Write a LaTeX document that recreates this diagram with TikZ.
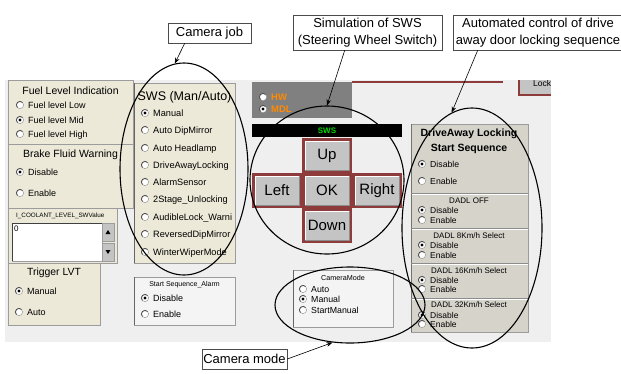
\documentclass[tikz,border=0pt]{standalone}
\usepackage{fontspec}
\setmainfont{Liberation Sans}
\usetikzlibrary{shapes.geometric,arrows.meta}
\definecolor{scrbg}{HTML}{EFEFEF}
\definecolor{panelc}{HTML}{ECE9D8}
\definecolor{dapanel}{HTML}{D6D3CB}
\definecolor{brd}{HTML}{9C9C9C}
\definecolor{maroonc}{HTML}{8E3B3B}
\definecolor{btnc}{HTML}{C4C4C4}
\definecolor{hwc}{HTML}{808080}
\definecolor{orangec}{HTML}{FF8A00}
\definecolor{swsg}{HTML}{00D800}
\definecolor{lightbox}{HTML}{F4F4F4}
% radio button: x, y, checked (1/0)
\newcommand\rbtn[3]{%
  \fill[white] (#1,#2) circle[radius=3.6pt];
  \draw[brd,line width=0.5pt] (#1,#2) circle[radius=3.6pt];
  \draw[black!70,line width=0.8pt] (#1,#2) ++(45:3.6pt) arc[start angle=45,end angle=225,radius=3.6pt];
  \ifnum#3=1 \fill[black] (#1,#2) circle[radius=1.6pt];\fi}
% radio item: name, x, y, checked, size, text
\newcommand\ritem[6]{%
  \rbtn{#2}{#3}{#4}
  \node[inner sep=0pt,anchor=base west,font=\fontsize{#5}{#5}\selectfont] (#1) at (#2+8,#3+0.36*#5) {#6};}
% title node: [opts] name, x, y, size, text
\newcommand\tnode[6][]{%
  \node[inner sep=0pt,anchor=base,font=\fontsize{#5}{#5}\selectfont,#1] (#2) at (#3,#4+0.36*#5) {#6};}
% SWS button: name, x, y, text
\newcommand\swsbtn[4]{%
  \fill[maroonc] (#2,#3) rectangle +(50,35);
  \fill[btnc] (#2+2.5,#3+2.5) rectangle +(45,30);
  \draw[white,line width=1pt] (#2+3,#3+32) -- (#2+3,#3+3) -- (#2+47,#3+3);
  \draw[black!45,line width=1pt] (#2+3,#3+32) -- (#2+47,#3+32) -- (#2+47,#3+3);
  \node[inner sep=0pt,font=\fontsize{15}{15}\selectfont] (#1) at (#2+25,#3+17.5) {#4};}
\tikzset{
  panel/.style={fill=panelc,draw=brd,line width=0.8pt},
  ell/.style={ellipse,draw=black,line width=1.1pt,inner sep=0pt},
  lbl/.style={draw=black!70,line width=0.6pt,fill=white,font=\fontsize{13}{17}\selectfont,inner sep=0pt,align=center},
  arr/.style={-{Stealth[length=6pt,width=4.5pt]},line width=0.6pt,black}
}
\begin{document}
\begin{tikzpicture}[x=1pt,y=-1pt]
\useasboundingbox (0,0) rectangle (621,373);
\fill[white] (0,0) rectangle (621,373);
\begin{scope}
\clip (5,80) rectangle (551,342);
\fill[scrbg] (5,80) rectangle (551,342);
% Lock button
\fill[btnc] (519,70) rectangle (551,95);
\draw[maroonc,line width=1.5pt] (519,70) -- (519,95) -- (551,95);
\node[inner sep=0pt,anchor=base west,font=\fontsize{8.5}{8.5}\selectfont] (lock) at (533,86.5) {Lock};
% left panels
\draw[panel] (8,80) rectangle (133,144);
\tnode{tFuel}{70.5}{91}{10.5}{Fuel Level Indication}
\ritem{rFL}{20}{105}{0}{9}{Fuel level Low}
\ritem{rFM}{20}{120}{1}{9}{Fuel level Mid}
\ritem{rFH}{20}{134}{0}{9}{Fuel level High}
\draw[panel] (8,144) rectangle (133,208);
\tnode{tBrake}{70.5}{154}{10.5}{Brake Fluid Warning}
\ritem{rBD}{20}{172}{1}{9}{Disable}
\ritem{rBE}{20}{193}{0}{9}{Enable}
\draw[panel] (8,208) rectangle (117,263);
\node[inner sep=0pt,anchor=base west,font=\fontsize{6.3}{6.3}\selectfont] (tCool) at (16,217.5) {I\_COOLANT\_LEVEL\_SWValue};
\fill[white] (12,223) rectangle (102,261);
\draw[black!75,line width=0.8pt] (12,261) -- (12,223) -- (102,223);
\draw[brd,line width=0.8pt] (102,223) -- (102,261) -- (12,261);
\node[inner sep=0pt,anchor=base west,font=\fontsize{8}{8}\selectfont] (vCool) at (14,231) {0};
\fill[btnc,draw=brd] (102,223) rectangle (114,241);
\fill[btnc,draw=brd] (102,243) rectangle (114,261);
\fill[black] (105.5,234) -- (110.5,234) -- (108,230) -- cycle;
\fill[black] (105.5,250) -- (110.5,250) -- (108,254) -- cycle;
\draw[panel] (8,263) rectangle (100,325);
\tnode{tTrig}{54}{272}{10.4}{Trigger LVT}
\ritem{rTM}{19}{291}{1}{9}{Manual}
\ritem{rTA}{19}{312}{0}{9}{Auto}
% SWS panel
\draw[panel] (134,83) rectangle (235,263);
\draw[black!60,line width=1pt] (134,83) -- (134,263);
\begin{scope}
\clip (134,83) rectangle (235,263);
\tnode{tSWS}{184.5}{96}{12.5}{SWS (Man/Auto)}
\ritem{s1}{145}{113}{1}{9.2}{Manual}
\ritem{s2}{145}{130}{0}{9.2}{Auto DipMirror}
\ritem{s3}{145}{148}{0}{9.2}{Auto Headlamp}
\ritem{s4}{145}{165}{0}{9.2}{DriveAwayLocking}
\ritem{s5}{145}{182}{0}{9.2}{AlarmSensor}
\ritem{s6}{145}{199}{0}{9.2}{2Stage\_Unlocking}
\ritem{s7}{145}{217}{0}{9.2}{AudibleLock\_Warni}
\ritem{s8}{145}{234}{0}{9.2}{ReversedDipMirror}
\ritem{s9}{145}{252}{0}{9.2}{WinterWiperMode}
\end{scope}
% Start sequence alarm
\fill[lightbox,draw=brd,line width=0.8pt] (134,277) rectangle (235,325);
\draw[black!60,line width=1pt] (134,277) -- (134,325);
\tnode{tSSA}{184.5}{284}{7}{Start Sequence\_Alarm}
\ritem{rSD}{145}{298}{1}{9}{Disable}
\ritem{rSE}{145}{314}{0}{9}{Enable}
% HW / MDL
\fill[hwc] (252,82) rectangle (352,118);
\ritem{rHW}{263}{97}{0}{9.5}{\textcolor{orangec}{\bfseries HW}}
\ritem{rMDL}{263}{109}{1}{9.5}{\textcolor{orangec}{\bfseries MDL}}
\draw[maroonc,line width=1.2pt] (352,82) -- (503,82);
% SWS bar and buttons
\fill[black] (252,124) rectangle (402,137);
\node[inner sep=0pt,font=\fontsize{8}{8}\selectfont\bfseries,text=swsg] (tSWSbar) at (327,130.5) {SWS};
\swsbtn{bUp}{302}{138}{Up}
\swsbtn{bLeft}{252}{173}{Left}
\swsbtn{bOK}{302}{173}{OK}
\swsbtn{bRight}{352}{173}{Right}
\swsbtn{bDown}{302}{208}{Down}
% Camera mode group
\fill[lightbox,draw=brd,line width=0.8pt] (293,270) rectangle (393,327);
\draw[black!60,line width=1pt] (293,270) -- (293,327);
\tnode{tCM}{343}{278}{7.2}{CameraMode}
\ritem{rCA}{303}{289}{0}{8.8}{Auto}
\ritem{rCM}{303}{299}{1}{8.8}{Manual}
\ritem{rCS}{303}{310}{0}{8.8}{StartManual}
% DriveAway panel
\fill[dapanel,draw=brd,line width=0.8pt] (411,124) rectangle (528,332);
\draw[black!55,line width=1pt] (411,124) -- (411,332);
\foreach \yy in {193,228,263,298}{
  \draw[black!45,line width=0.9pt] (411,\yy) -- (528,\yy);
  \draw[white,line width=0.7pt] (412,\yy+1.2) -- (528,\yy+1.2);}
\tnode{tDA1}{469}{133}{10.5}{\bfseries DriveAway Locking}
\tnode{tDA2}{469}{148}{10.5}{\bfseries Start Sequence}
\ritem{rDAD}{422}{164}{1}{8.7}{Disable}
\ritem{rDAE}{422}{181}{0}{8.7}{Enable}
\tnode{tD0}{469}{201}{8}{DADL OFF}
\ritem{rD0D}{422}{210}{1}{8.5}{Disable}
\ritem{rD0E}{422}{220}{0}{8.5}{Enable}
\tnode{tD8}{469}{236}{8}{DADL 8Km/h Select}
\ritem{rD8D}{422}{245}{1}{8.5}{Disable}
\ritem{rD8E}{422}{255}{0}{8.5}{Enable}
\tnode{tD16}{469}{271}{8}{DADL 16Km/h Select}
\ritem{rD16D}{422}{280}{1}{8.5}{Disable}
\ritem{rD16E}{422}{289}{0}{8.5}{Enable}
\tnode{tD32}{469}{305}{8}{DADL 32Km/h Select}
\ritem{rD32D}{422}{315}{1}{8.5}{Disable}
\ritem{rD32E}{422}{324}{0}{8.5}{Enable}
\end{scope}
% highlight ellipses
\node[ell,minimum width=128pt,minimum height=212pt] (ellJob) at (184,169) {};
\node[ell,minimum width=154pt,minimum height=148pt] (ellSim) at (327,180) {};
\node[ell,minimum width=140pt,minimum height=240pt] (ellDA) at (472,228) {};
\node[ell,minimum width=150pt,minimum height=76pt] (ellMode) at (350,305) {};
% labels
\node[lbl,minimum width=83pt,minimum height=20pt] (lblJob) at (209.5,33) {Camera job};
\node[lbl,minimum width=149pt,minimum height=35pt] (lblSim) at (367.5,32.5) {Simulation of SWS\\(Steering Wheel Switch)};
\node[lbl,minimum width=170pt,minimum height=35pt] (lblAuto) at (538,32.5) {Automated control of drive\\away door locking sequence};
\node[lbl,minimum width=85pt,minimum height=20pt] (lblMode) at (244.5,359) {Camera mode};
% connectors
\draw[arr] ([xshift=17pt]lblJob.south west) -- (ellJob.95);
\draw[arr] ([xshift=52pt]lblSim.south west) -- (ellSim.north);
\draw[arr] ([xshift=25pt]lblAuto.south west) -- (ellDA.100);
\draw[arr] (lblMode.east) -- (ellMode.245);
\end{tikzpicture}
\end{document}
